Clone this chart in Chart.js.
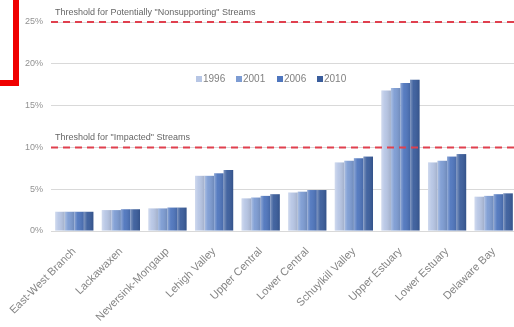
<!DOCTYPE html>
<html>
<head>
<meta charset="utf-8">
<title></title>
<style>
  * { margin: 0; padding: 0; box-sizing: border-box; }
  html, body { width: 514px; height: 327px; overflow: hidden; background: #fff; }
  #wrap { position: relative; width: 520px; height: 327px; }
  #redV { position: absolute; left: 13px; top: 0; width: 6px; height: 86px; background: #f00000; }
  #redH { position: absolute; left: 0; top: 80px; width: 19px; height: 6px; background: #f00000; }
</style>
</head>
<body>
<div id="wrap">
  <canvas id="myChart" width="520" height="327"></canvas>
  <div id="redV"></div>
  <div id="redH"></div>
</div>
<script src="https://cdn.jsdelivr.net/npm/chart.js"></script>
<script>
  // watersheds
  const regions = ["East-West Branch", "Lackawaxen", "Neversink-Mongaup", "Lehigh Valley", "Upper Central",
    "Lower Central", "Schuylkill Valley", "Upper Estuary", "Lower Estuary", "Delaware Bay"];
  const years = ["1996", "2001", "2006", "2010"];

  // percent impervious cover by year
  const v1996 = [2.3, 2.5, 2.7, 6.6, 3.9, 4.6, 8.2, 16.8, 8.2, 4.1];
  const v2001 = [2.3, 2.5, 2.7, 6.6, 4.0, 4.7, 8.4, 17.1, 8.4, 4.2];
  const v2006 = [2.3, 2.6, 2.8, 6.9, 4.2, 4.9, 8.7, 17.7, 8.9, 4.4];
  const v2010 = [2.3, 2.6, 2.8, 7.3, 4.4, 4.9, 8.9, 18.1, 9.2, 4.5];

  const thresholds = [
    {value: 25, label: 'Threshold for Potentially "Nonsupporting" Streams'},
    {value: 10, label: 'Threshold for "Impacted" Streams'}
  ];

  const colors = ["#b7c6e5", "#7d9cd3", "#4f76be", "#3a5d9c"];
  const FONT = "'Liberation Sans', Arial, sans-serif";

  const extras = {
    id: 'extras',
    afterDatasetsDraw(chart) {
      const ctx = chart.ctx;
      const a = chart.chartArea;
      const y = chart.scales.y;
      ctx.save();
      // soft shading on each bar
      chart.data.datasets.forEach((ds, di) => {
        chart.getDatasetMeta(di).data.forEach(bar => {
          const l = bar.x - bar.width / 2, r = bar.x + bar.width / 2;
          const g = ctx.createLinearGradient(l, 0, r, 0);
          g.addColorStop(0, "rgba(255,255,255,0.35)");
          g.addColorStop(0.35, "rgba(255,255,255,0.05)");
          g.addColorStop(1, "rgba(0,0,0,0.12)");
          ctx.fillStyle = g;
          ctx.fillRect(l, bar.y, bar.width, bar.base - bar.y);
        });
      });
      // threshold lines
      thresholds.forEach(t => {
        const py = y.getPixelForValue(t.value);
        ctx.strokeStyle = "#e0404e";
        ctx.lineWidth = 2;
        ctx.setLineDash([7, 5]);
        ctx.beginPath();
        ctx.moveTo(a.left, py);
        ctx.lineTo(a.right, py);
        ctx.stroke();
        ctx.setLineDash([]);
        ctx.fillStyle = "#666";
        ctx.font = "9px " + FONT;
        ctx.textAlign = "left";
        ctx.textBaseline = "bottom";
        ctx.fillText(t.label, a.left + 4, py - 5);
      });
      // legend
      const lx = [196, 236, 277, 317];
      ctx.font = "10px " + FONT;
      ctx.textBaseline = "middle";
      years.forEach((yr, i) => {
        ctx.fillStyle = colors[i];
        ctx.fillRect(lx[i], 76, 6, 6);
        ctx.fillStyle = "#808080";
        ctx.fillText(yr, lx[i] + 7, 79);
      });
      ctx.restore();
    }
  };

  new Chart(document.getElementById('myChart'), {
    type: 'bar',
    data: {
      labels: regions,
      datasets: [v1996, v2001, v2006, v2010].map((d, i) => ({
        label: years[i],
        data: d,
        backgroundColor: colors[i],
        borderWidth: 0,
        categoryPercentage: 0.82,
        barPercentage: 1.0
      }))
    },
    options: {
      responsive: false,
      animation: false,
      layout: {padding: {top: 22, right: 3, left: 0, bottom: 0}},
      plugins: {
        legend: {display: false},
        tooltip: {enabled: false}
      },
      scales: {
        x: {
          grid: {display: false},
          border: {display: true, color: "#d9d9d9"},
          ticks: {
            autoSkip: false,
            minRotation: 45,
            maxRotation: 45,
            color: "#858585",
            font: {family: FONT, size: 11},
            padding: 6
          },
          afterFit(s) { s.height = 96; }
        },
        y: {
          min: 0,
          max: 25,
          ticks: {
            stepSize: 5,
            callback: v => v + "%",
            color: "#929292",
            font: {family: FONT, size: 9},
            padding: 8
          },
          grid: {color: "#d9d9d9", drawTicks: false},
          border: {display: false},
          afterFit(s) { s.width = 51; }
        }
      }
    },
    plugins: [extras]
  });
</script>
</body>
</html>
